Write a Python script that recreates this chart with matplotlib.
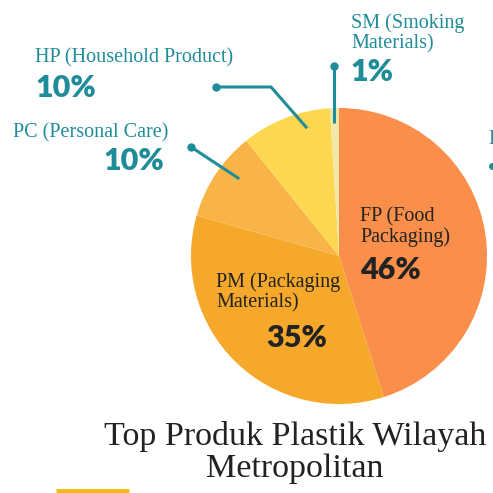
import matplotlib
matplotlib.use("Agg")
import matplotlib.pyplot as plt

categories = ["FP (Food\nPackaging)", "PM (Packaging\nMaterials)", "PC (Personal Care)",
              "HP (Household Product)", "SM (Smoking\nMaterials)"]
values = [46, 35, 10, 10, 1]
pct_labels = ["46%", "35%", "10%", "10%", "1%"]
colors = ["#FA8E4B", "#F6A82A", "#F9B448", "#FCD74F", "#F3E6A6"]
title_lines = ["Top Produk Plastik Wilayah", "Metropolitan"]

W = H = 493
fig = plt.figure(figsize=(4.93, 4.93), dpi=100)
ax = fig.add_axes([0, 0, 1, 1])

def Y(y):
    return H - y

cx, cy, r = 339, Y(256), 148
ax.pie(values, colors=colors, startangle=90, counterclock=False,
       center=(cx, cy), radius=r, frame=True,
       wedgeprops=dict(linewidth=0))
ax.set_xlim(0, W)
ax.set_ylim(0, H)
ax.set_aspect("equal")
ax.axis("off")

teal = "#1F8C99"
serif = ["Liberation Serif", "DejaVu Serif"]
bold = ["Lato", "DejaVu Sans"]
dark = "#222222"
ls = 14.5
ps = 22

# inside labels
ax.text(360, Y(227), categories[0], fontsize=ls, family=serif, color=dark,
        va="center", ha="left", linespacing=1.1)
ax.text(360, Y(270), pct_labels[0], fontsize=ps, family=bold, weight="heavy",
        color=dark, va="center", ha="left")
ax.text(216, Y(292), categories[1], fontsize=ls, family=serif, color=dark,
        va="center", ha="left", linespacing=1.1)
ax.text(266, Y(338), pct_labels[1], fontsize=ps, family=bold, weight="heavy",
        color=dark, va="center", ha="left")

# outside labels
ax.text(13, Y(133), categories[2], fontsize=ls, family=serif, color=teal,
        va="center", ha="left")
ax.text(103, Y(161), pct_labels[2], fontsize=ps, family=bold, weight="heavy",
        color=teal, va="center", ha="left")
ax.text(35, Y(58), categories[3], fontsize=ls, family=serif, color=teal,
        va="center", ha="left")
ax.text(35, Y(88), pct_labels[3], fontsize=ps, family=bold, weight="heavy",
        color=teal, va="center", ha="left")
ax.text(351, Y(33), categories[4], fontsize=ls, family=serif, color=teal,
        va="center", ha="left", linespacing=1.1)
ax.text(350, Y(72), pct_labels[4], fontsize=ps, family=bold, weight="heavy",
        color=teal, va="center", ha="left")

# partial label at right edge (cut off in the reference too)
ax.text(488, Y(140), "F", fontsize=ls, family=serif, color=teal,
        va="center", ha="left", clip_on=False)
ax.plot([492], [Y(166)], "o", color=teal, markersize=4, clip_on=False)

# leader lines
lw = 2.2
ax.plot([334, 334], [Y(66), Y(123)], color=teal, lw=lw, solid_capstyle="butt")
ax.plot([334], [Y(66)], "o", color=teal, markersize=5)
ax.plot([216, 271, 306], [Y(87), Y(87), Y(127)], color=teal, lw=lw)
ax.plot([216], [Y(87)], "o", color=teal, markersize=5)
ax.plot([191, 238], [Y(147), Y(178)], color=teal, lw=lw)
ax.plot([191], [Y(147)], "o", color=teal, markersize=5)

# title
ax.text(295, Y(437), title_lines[0], fontsize=24.5, family=serif, color=dark,
        ha="center", va="center")
ax.text(295, Y(469), title_lines[1], fontsize=24.5, family=serif, color=dark,
        ha="center", va="center")

# yellow bar
ax.plot([56, 129], [Y(491), Y(491)], color="#F8B90D", lw=3.5, solid_capstyle="butt")

fig.savefig("out.png", dpi=100)
